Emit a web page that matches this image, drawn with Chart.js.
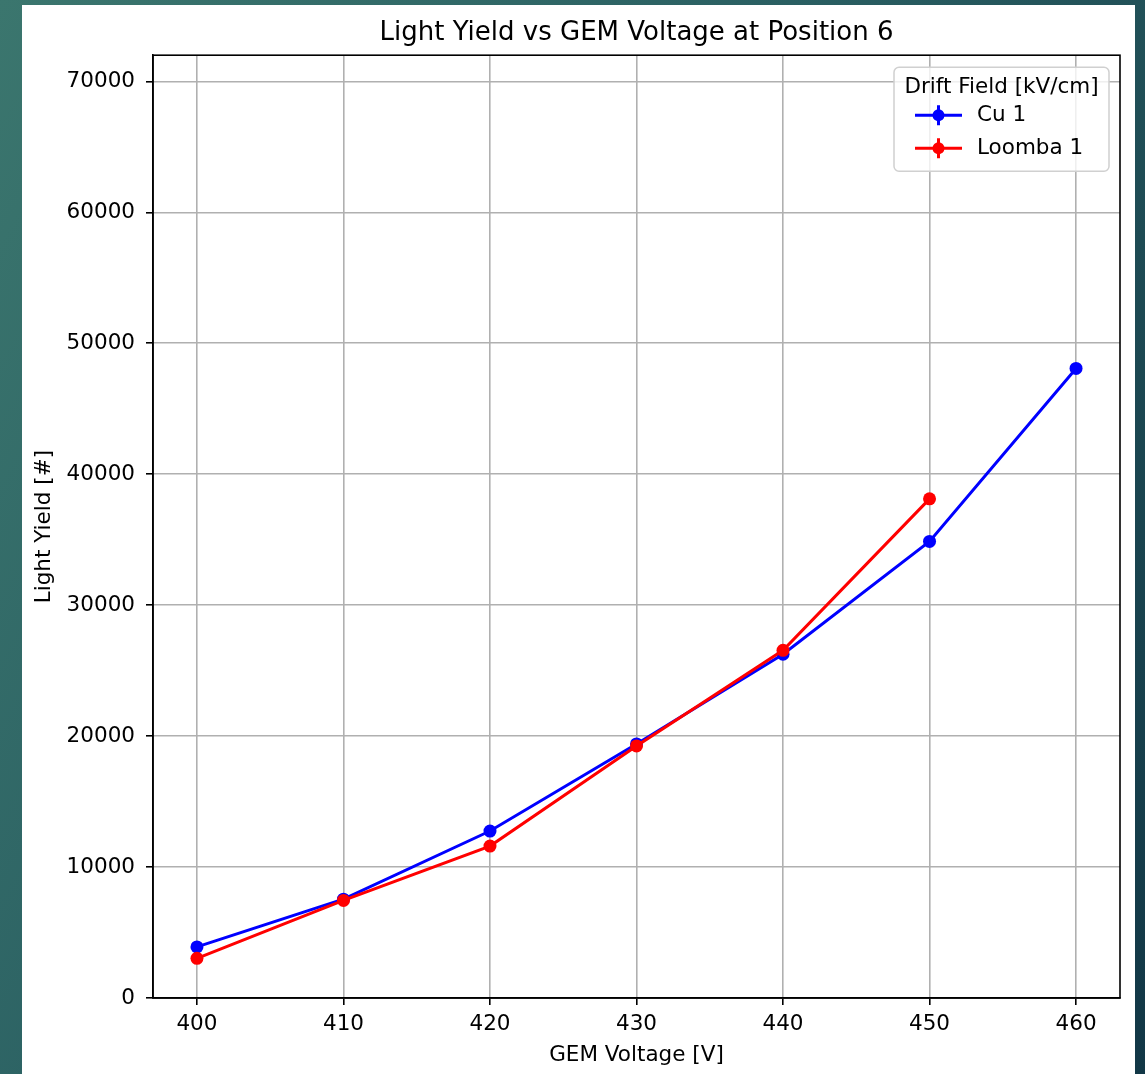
<!DOCTYPE html>
<html>
<head>
<meta charset="utf-8">
<script src="https://cdn.jsdelivr.net/npm/chart.js@4/dist/chart.umd.min.js"></script>
<style>
  html, body { margin: 0; padding: 0; }
  body {
    width: 1145px; height: 1074px; position: relative; overflow: hidden;
    background: linear-gradient(120deg, #3b766e 0%, #2a5f62 45%, #123746 100%);
  }
  #panel { position: absolute; left: 22px; top: 5px; width: 1113px; height: 1069px; background: #fff; }
  #chart { position: absolute; left: 0; top: 0; }
</style>
</head>
<body>
<div id="panel"></div>
<canvas id="chart" width="1145" height="1074"></canvas>
<script>
  const voltages = [400, 410, 420, 430, 440, 450, 460];
  const cuYield = [3900, 7550, 12750, 19400, 26250, 34870, 48080];
  const loombaVoltages = [400, 410, 420, 430, 440, 450];
  const loombaYield = [3030, 7450, 11600, 19250, 26550, 38120];
  const xTicks = [400, 410, 420, 430, 440, 450, 460];
  const yTicks = [0, 10000, 20000, 30000, 40000, 50000, 60000, 70000];

  const fonte = 'DejaVu Sans';
  const tamanho = 21.5;

  // moldura do eixo (topo e direita) e legenda ao estilo matplotlib
  const molduraLegenda = {
    id: 'molduraLegenda',
    afterDraw(chart) {
      const ctx = chart.ctx;
      const a = chart.chartArea;
      ctx.save();
      ctx.strokeStyle = '#000';
      ctx.lineWidth = 1.6;
      ctx.strokeRect(a.left, a.top, a.right - a.left, a.bottom - a.top);

      const w = 215, h = 104;
      const bx = a.right - 11 - w, by = a.top + 12;
      ctx.beginPath();
      ctx.roundRect(bx, by, w, h, 5);
      ctx.fillStyle = 'rgba(255,255,255,0.8)';
      ctx.fill();
      ctx.strokeStyle = '#d0d0d0';
      ctx.lineWidth = 1.5;
      ctx.stroke();

      ctx.fillStyle = '#000';
      ctx.font = tamanho + 'px "' + fonte + '"';
      ctx.textBaseline = 'middle';
      ctx.textAlign = 'center';
      ctx.fillText('Drift Field [kV/cm]', bx + w / 2, by + 20);

      ctx.textAlign = 'left';
      chart.data.datasets.forEach((ds, i) => {
        const y = by + 48 + i * 33;
        ctx.strokeStyle = ds.borderColor;
        ctx.lineWidth = 3;
        ctx.beginPath();
        ctx.moveTo(bx + 21, y); ctx.lineTo(bx + 68, y);
        ctx.moveTo(bx + 44.5, y - 10); ctx.lineTo(bx + 44.5, y + 10);
        ctx.stroke();
        ctx.fillStyle = ds.borderColor;
        ctx.beginPath();
        ctx.arc(bx + 44.5, y, 6, 0, Math.PI * 2);
        ctx.fill();
        ctx.fillStyle = '#000';
        ctx.fillText(ds.label, bx + 83, y);
      });
      ctx.restore();
    }
  };

  new Chart(document.getElementById('chart'), {
    type: 'line',
    data: {
      datasets: [{
        label: 'Cu 1',
        data: voltages.map((v, i) => ({ x: v, y: cuYield[i] })),
        borderColor: '#0000ff',
        backgroundColor: '#0000ff',
        borderWidth: 3,
        pointRadius: 6.5,
        pointBorderWidth: 0,
        order: 1
      }, {
        label: 'Loomba 1',
        data: loombaVoltages.map((v, i) => ({ x: v, y: loombaYield[i] })),
        borderColor: '#ff0000',
        backgroundColor: '#ff0000',
        borderWidth: 3,
        pointRadius: 6.5,
        pointBorderWidth: 0,
        order: 0
      }]
    },
    options: {
      responsive: false,
      animation: false,
      layout: { padding: { left: 0, right: 25, top: 0, bottom: 0 } },
      plugins: {
        legend: { display: false },
        tooltip: { enabled: false },
        title: {
          display: true,
          fullSize: false,
          text: 'Light Yield vs GEM Voltage at Position 6',
          color: '#000',
          font: { family: fonte, size: 26, weight: 'normal' },
          padding: { top: 18, bottom: 6 }
        }
      },
      scales: {
        x: {
          type: 'linear',
          min: 397,
          max: 463,
          afterBuildTicks: s => { s.ticks = xTicks.map(v => ({ value: v })); },
          afterFit: s => { s.height = 76; },
          grid: { color: '#b0b0b0', lineWidth: 1.6, tickColor: '#000', tickLength: 7, tickWidth: 1.6 },
          border: { display: true, color: '#000', width: 1.6 },
          ticks: { color: '#000', padding: 7, font: { family: fonte, size: tamanho } },
          title: {
            display: true, text: 'GEM Voltage [V]', color: '#000',
            font: { family: fonte, size: tamanho }, padding: { top: 0, bottom: 6 }
          }
        },
        y: {
          min: 0,
          max: 72000,
          afterBuildTicks: s => { s.ticks = yTicks.map(v => ({ value: v })); },
          afterFit: s => { s.width = 153; },
          grid: { color: '#b0b0b0', lineWidth: 1.6, tickColor: '#000', tickLength: 7, tickWidth: 1.6 },
          border: { display: true, color: '#000', width: 1.6 },
          ticks: { color: '#000', padding: 11, font: { family: fonte, size: tamanho }, callback: v => String(v) },
          title: {
            display: true, text: 'Light Yield [#]', color: '#000',
            font: { family: fonte, size: tamanho }, padding: { top: 32, bottom: 0 }
          }
        }
      }
    },
    plugins: [molduraLegenda]
  });
</script>
</body>
</html>
